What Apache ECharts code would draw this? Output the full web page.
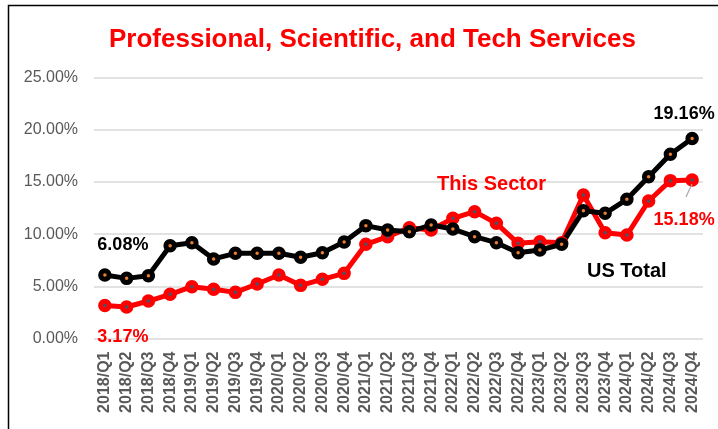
<!DOCTYPE html>
<html>
<head>
<meta charset="utf-8">
<script src="https://cdn.jsdelivr.net/npm/echarts@6/dist/echarts.min.js"></script>
<style>
  html, body { margin: 0; padding: 0; background: #fff; }
  #chart { width: 718px; height: 429px; }
</style>
</head>
<body>
<div id="chart"></div>
<script>
// quarters on the x axis
const quarters = [
  '2018/Q1', '2018/Q2', '2018/Q3', '2018/Q4',
  '2019/Q1', '2019/Q2', '2019/Q3', '2019/Q4',
  '2020/Q1', '2020/Q2', '2020/Q3', '2020/Q4',
  '2021/Q1', '2021/Q2', '2021/Q3', '2021/Q4',
  '2022/Q1', '2022/Q2', '2022/Q3', '2022/Q4',
  '2023/Q1', '2023/Q2', '2023/Q3', '2023/Q4',
  '2024/Q1', '2024/Q2', '2024/Q3', '2024/Q4'
];
// this sector (red), percent
const sectorValues = [
  3.17, 3.02, 3.59, 4.23, 4.96, 4.71, 4.42, 5.22,
  6.08, 5.09, 5.67, 6.24, 9.02, 9.75, 10.61, 10.39,
  11.51, 12.15, 11.03, 9.12, 9.27, 9.18, 13.75, 10.13,
  9.91, 13.17, 15.12, 15.18
];
// US total (black), percent
const usValues = [
  6.08, 5.76, 6.02, 8.89, 9.18, 7.62, 8.16, 8.16,
  8.16, 7.78, 8.22, 9.24, 10.81, 10.39, 10.23, 10.87,
  10.49, 9.75, 9.18, 8.22, 8.48, 9.02, 12.24, 11.99,
  13.33, 15.50, 17.64, 19.16
];
const yTicks = [0, 5, 10, 15, 20, 25];

const pct = v => v.toFixed(2) + '%';
const labelFont = { fontFamily: 'Liberation Sans', fontWeight: 'bold', fontSize: 18 };

// first / last point get a value label
function withEndLabels(values, color, firstLbl, lastLbl) {
  return values.map((v, i) => {
    if (i === 0) return { value: v, label: Object.assign({ show: true, color: color, formatter: p => pct(p.value) }, labelFont, firstLbl) };
    if (i === values.length - 1) return { value: v, label: Object.assign({ show: true, color: color, formatter: p => pct(p.value) }, labelFont, lastLbl) };
    return v;
  });
}

const chart = echarts.init(document.getElementById('chart'));
chart.setOption({
  animation: false,
  title: {
    text: 'Professional, Scientific, and Tech Services',
    left: 104,
    top: 22,
    textStyle: { color: '#ff0000', fontFamily: 'Liberation Sans', fontWeight: 'bold', fontSize: 26 }
  },
  grid: { left: 94, right: 15, top: 77.5, bottom: 90.5 },
  xAxis: {
    type: 'category',
    data: quarters,
    boundaryGap: true,
    axisLine: { show: false },
    axisTick: { show: false },
    axisLabel: {
      rotate: 90, interval: 0, margin: 13,
      color: '#595959', fontFamily: 'Liberation Sans', fontWeight: 'bold', fontSize: 16
    }
  },
  yAxis: {
    type: 'value',
    min: yTicks[0], max: yTicks[yTicks.length - 1], interval: 5,
    axisLine: { show: false },
    axisTick: { show: false },
    axisLabel: {
      margin: 16, formatter: v => pct(v),
      color: '#595959', fontFamily: 'Liberation Sans', fontSize: 16
    },
    splitLine: { lineStyle: { color: '#d9d9d9', width: 1.5 } }
  },
  series: [
    {
      name: 'This Sector',
      type: 'line',
      data: withEndLabels(sectorValues, '#ff0000',
        { position: 'bottom', offset: [18, 11] },
        { position: 'bottom', offset: [-8, 19] }),
      lineStyle: { color: '#ff0000', width: 5 },
      symbol: 'circle',
      symbolSize: 8.5,
      itemStyle: { color: '#44546a', borderColor: '#ff0000', borderWidth: 5 }
    },
    {
      name: 'US Total',
      type: 'line',
      data: withEndLabels(usValues, '#000000',
        { position: 'top', offset: [18, -9] },
        { position: 'top', offset: [-8, -4] }),
      lineStyle: { color: '#000000', width: 5 },
      symbol: 'circle',
      symbolSize: 8.5,
      itemStyle: { color: '#ed7d31', borderColor: '#000000', borderWidth: 5 }
    }
  ],
  graphic: [
    // outer frame
    { type: 'rect', z: 100, shape: { x: 8.5, y: 5.5, width: 800, height: 500 }, style: { fill: 'none', stroke: '#000', lineWidth: 1.5 }, silent: true },
    // series name annotations
    { type: 'text', z: 100, left: 437, top: 174, style: { text: 'This Sector', fill: '#ff0000', font: 'bold 20px "Liberation Sans"' } },
    { type: 'text', z: 100, left: 587, top: 261, style: { text: 'US Total', fill: '#000000', font: 'bold 20px "Liberation Sans"' } },
    // leader line for last red label
    { type: 'line', z: 100, shape: { x1: 692, y1: 184, x2: 686, y2: 197 }, style: { stroke: '#a6a6a6', lineWidth: 1.2 } }
  ]
});
</script>
</body>
</html>
